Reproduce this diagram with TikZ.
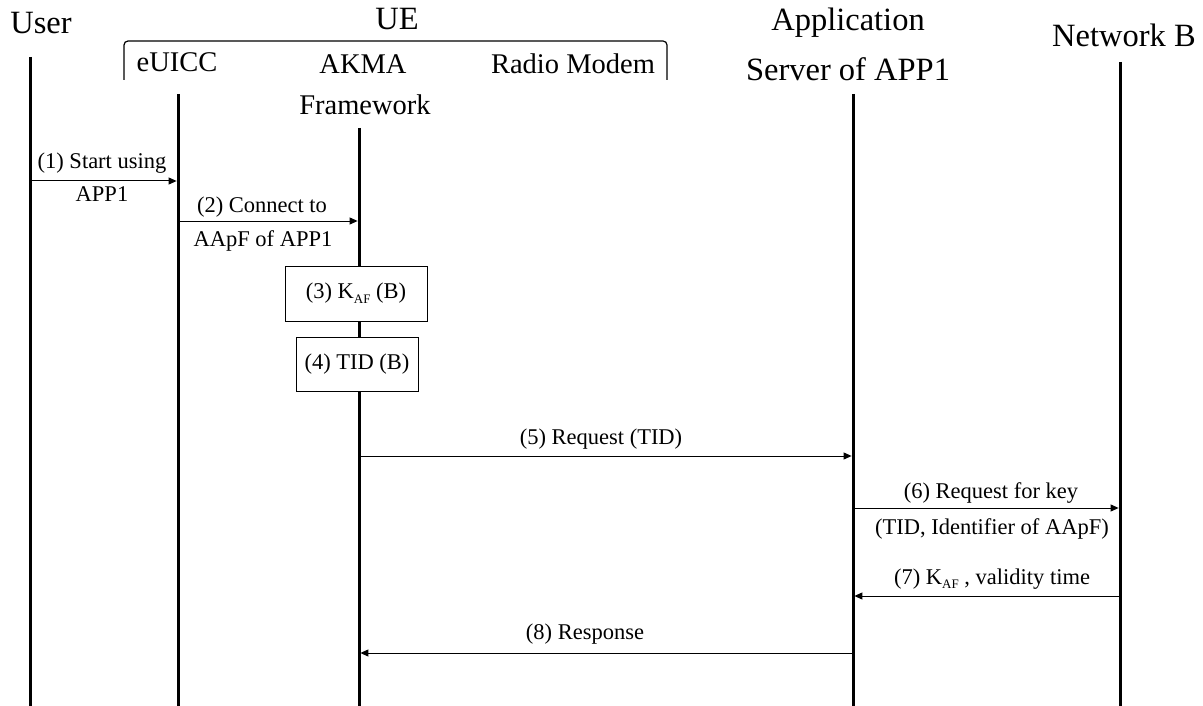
\documentclass[tikz,border=0pt]{standalone}
\usepackage{fontspec}
\setmainfont{Liberation Serif}
\usetikzlibrary{arrows.meta}
\newcommand{\subAF}{\raisebox{-4.5pt}{\fontsize{13}{13}\selectfont AF}}
\begin{document}
\begin{tikzpicture}[x=1pt,y=-1pt,
  head/.style={font=\fontsize{32.5}{38}\selectfont, inner sep=0pt, anchor=base},
  part/.style={font=\fontsize{28.5}{34}\selectfont, inner sep=0pt, anchor=base},
  msg/.style={font=\fontsize{22.5}{27}\selectfont, inner sep=0pt, anchor=base},
  life/.style={line width=3pt},
  call/.style={line width=1pt, -{Triangle[length=8pt,width=7pt]}, shorten >=1.4pt},
  stepbox/.style={draw, line width=1pt, fill=white, inner sep=0pt,
    font=\fontsize{22.5}{27}\selectfont},
  brace/.style={line width=1.2pt, rounded corners=4pt}
]
\useasboundingbox (0,0) rectangle (1203,706);

% participants
\node[head] (user) at (41,34) {User};
\node[head] (ue) at (397,30) {UE};
\node[part] (euicc) at (177,72) {eUICC};
\node[part] (akma) at (363,74) {AKMA};
\node[part] (radio) at (573,74) {Radio Modem};
\node[part] (fw) at (365,115) {Framework};
\node[head] (app) at (848,31) {Application};
\node[head] (srv) at (848,81) {Server of APP1};
\node[head] (netb) at (1124,47) {Network B};

% UE grouping bracket
\coordinate (brL) at (124,80);
\coordinate (brR) at (667,80);
\draw[brace] (brL) -- (124,41) -- (667,41) -- (brR);

% lifelines
\coordinate (userT) at (30,57);    \coordinate (userB) at (30,706);
\coordinate (euiccT) at (178,94);  \coordinate (euiccB) at (178,706);
\coordinate (akmaT) at (359,128);  \coordinate (akmaB) at (359,706);
\coordinate (asT) at (853,94);     \coordinate (asB) at (853,706);
\coordinate (nbT) at (1120,62);    \coordinate (nbB) at (1120,706);
\draw[life] (userT) -- (userB);
\draw[life] (euiccT) -- (euiccB);
\draw[life] (akmaT) -- (akmaB);
\draw[life] (asT) -- (asB);
\draw[life] (nbT) -- (nbB);

% (1)
\draw[call] (userT |- 0,181) -- (euiccT |- 0,181);
\node[msg] (l1a) at (102,168) {(1) Start using};
\node[msg] (l1b) at (102,202) {APP1};

% (2)
\draw[call] (euiccT |- 0,221) -- (akmaT |- 0,221);
\node[msg] (l2a) at (262,213) {(2) Connect to};
\node[msg] (l2b) at (263,246) {AApF of APP1};

% (3), (4) local steps
\node[stepbox, minimum width=142pt, minimum height=55pt] (s3) at (356,293.5)
  {(3) K\subAF\ (B)};
\node[stepbox, minimum width=122pt, minimum height=54pt] (s4) at (357,364)
  {(4) TID (B)};

% (5)
\draw[call] (akmaT |- 0,456) -- (asT |- 0,456);
\node[msg] (l5) at (601,444) {(5) Request (TID)};

% (6)
\draw[call] (asT |- 0,508) -- (nbT |- 0,508);
\node[msg] (l6a) at (991,498) {(6) Request for key};
\node[msg] (l6b) at (992,534) {(TID, Identifier of AApF)};

% (7)
\draw[call] (nbT |- 0,596) -- (asT |- 0,596);
\node[msg] (l7) at (992,584) {(7) K\subAF\ , validity time};

% (8)
\draw[call] (asT |- 0,653) -- (akmaT |- 0,653);
\node[msg] (l8) at (585,639) {(8) Response};
\end{tikzpicture}
\end{document}
